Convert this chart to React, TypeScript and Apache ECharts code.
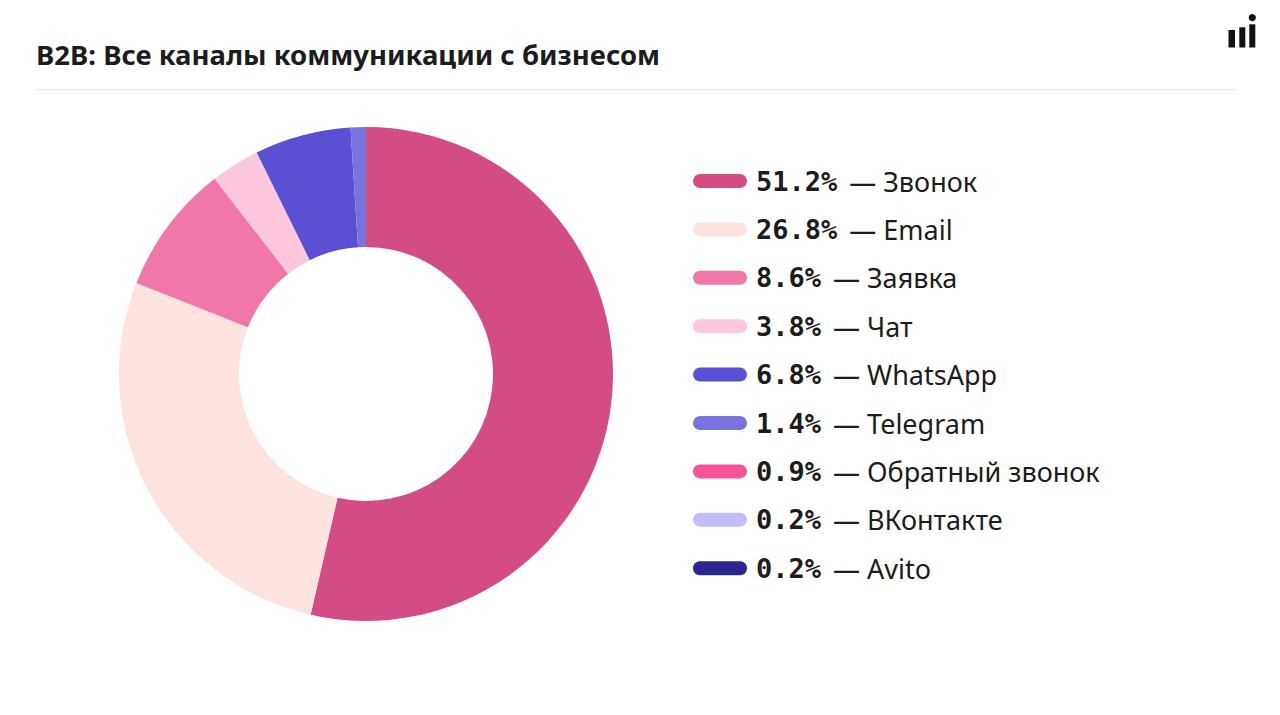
import React, { useEffect, useRef } from "react";
import * as echarts from "echarts";

const channels = ["Звонок", "Email", "Заявка", "Чат", "WhatsApp", "Telegram", "Обратный звонок", "ВКонтакте", "Avito"];
// shares printed in the legend
const shareLabels = ["51.2", "26.8", "8.6", "3.8", "6.8", "1.4", "0.9", "0.2", "0.2"];
// slice sizes as read from the ring itself
const sliceValues = [53.6, 27.4, 8.5, 3.2, 6.3, 1.0, 0, 0, 0];
const colors = ["#d34d84", "#fde3df", "#f077a7", "#fdc8de", "#5b4fd3", "#7b72df", "#f4549a", "#c3bdf6", "#2f2592"];

const capsule = "path://M7,0 L47,0 A7,7 0 0 1 47,14 L7,14 A7,7 0 0 1 7,0 Z";

export default function App() {
  const ref = useRef<HTMLDivElement>(null);
  useEffect(() => {
    if (!ref.current) return;
    const chart = echarts.init(ref.current, null, { renderer: "svg" });
    const labelMap: Record<string, string> = {};
    channels.forEach((c, i) => (labelMap[c] = shareLabels[i]));
    chart.setOption({
      animation: false,
      backgroundColor: "#ffffff",
      graphic: [
        {
          type: "text",
          left: 36,
          top: 40,
          style: {
            text: "B2B: Все каналы коммуникации с бизнесом",
            font: "bold 27.5px 'Noto Sans'",
            fill: "#1c1c1c",
          },
        },
        {
          type: "line",
          shape: { x1: 36, y1: 89.5, x2: 1236, y2: 89.5 },
          style: { stroke: "#e6e6e6", lineWidth: 1 },
        },
        { type: "rect", shape: { x: 1228.5, y: 30, width: 6.5, height: 17.5 }, style: { fill: "#111" } },
        { type: "rect", shape: { x: 1239.3, y: 27.3, width: 6, height: 20.2 }, style: { fill: "#111" } },
        { type: "rect", shape: { x: 1249.3, y: 24.3, width: 6, height: 23.2 }, style: { fill: "#111" } },
        { type: "circle", shape: { cx: 1252.3, cy: 17.7, r: 3.6 }, style: { fill: "#111" } },
      ],
      legend: {
        orient: "vertical",
        left: 688,
        top: 161,
        padding: 5,
        itemWidth: 54,
        itemHeight: 14,
        itemGap: 18.4,
        icon: capsule,
        selectedMode: false,
        data: channels,
        formatter: (name: string) => `{p|${labelMap[name]}%}{n|— ${name}}`,
        textStyle: {
          fontSize: 27,
          lineHeight: 30,
          rich: {
            p: {
              fontFamily: "'DejaVu Sans Mono'",
              fontWeight: "bold",
              fontSize: 27,
              color: "#1c1c1c",
              lineHeight: 30,
              padding: [0, 0, 0, 4],
            },
            n: {
              fontFamily: "'Noto Sans'",
              fontSize: 27,
              color: "#1c1c1c",
              lineHeight: 30,
              padding: [0, 0, 0, 12],
            },
          },
        },
      },
      series: [
        {
          type: "pie",
          center: [366, 374],
          radius: [127, 247],
          startAngle: 90,
          clockwise: true,
          label: { show: false },
          labelLine: { show: false },
          silent: true,
          itemStyle: { borderWidth: 0 },
          data: channels.map((c, i) => ({ name: c, value: sliceValues[i], itemStyle: { color: colors[i] } })),
        },
      ],
    });
    return () => chart.dispose();
  }, []);
  return <div ref={ref} style={{ position: "fixed", left: 0, top: 0, width: 1280, height: 715 }} />;
}
